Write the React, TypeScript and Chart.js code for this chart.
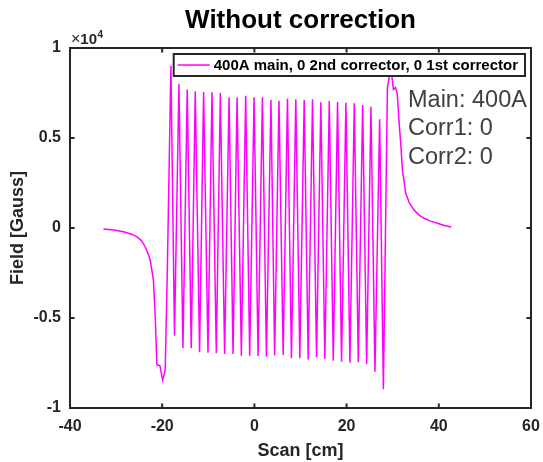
import React, { useEffect, useRef } from "react";
import { Chart, registerables } from "chart.js";

Chart.register(...registerables);

// ---- data ----
const scanX: number[] = [
  // left fringe
  -32.75, -30.5, -28.4, -26.8, -25.5, -24.5, -23.7, -23.1, -22.6, -21.9, -21.5, -21.15, -20.5, -19.9, -19.35, -18.9,
  // periods (peak, trough)
  -18.11, -17.33, -16.37, -15.5, -14.57, -13.7, -12.83, -11.89, -11.02, -10.07, -9.2, -8.26, -7.39, -6.46,
  -5.5, -4.63, -3.76, -2.83, -1.89, -1.02, -0.07, 0.8, 1.74, 2.61, 3.59, 4.39, 5.33, 6.24, 7.17, 8.04,
  8.98, 9.85, 10.8, 11.67, 12.61, 13.48, 14.41, 15.28, 16.24, 17.11, 18.04, 18.91, 19.85, 20.72, 21.67, 22.54,
  23.48, 24.35, 25.28, 26.15, 27.17, 27.98,
  // right fringe
  28.85, 29.3, 29.8, 30.15, 30.6, 31.0, 31.4, 31.74, 32.11, 32.83, 33.6, 34.63, 35.8, 36.8, 38.2, 39.72, 41.2, 42.7,
];

const fieldGauss: number[] = [
  // left fringe
  -55, -110, -205, -330, -480, -700, -1040, -1400, -1780, -2900, -5000, -7600, -7650, -8450, -7900, -2500,
  // periods (peak, trough)
  9000, -5980, 8000, -6680, 7700, -6680, 7600, -6900, 7550, -6930, 7540, -6960, 7500, -7000,
  7260, -7000, 7260, -7090, 7350, -7090, 7260, -7110, 7260, -7150, 7130, -7080, 7070, -7060, 7200, -7240,
  7150, -7240, 7110, -7300, 7150, -7180, 6980, -7280, 7060, -7370, 7000, -7430, 6960, -7480, 6930, -7460,
  6830, -7570, 6740, -7980, 6040, -8960,
  // right fringe
  7760, 8500, 8500, 7700, 7800, 7450, 5800, 4700, 3220, 1930, 1400, 1000, 700, 540, 380, 260, 140, 50,
];

const xTicks: number[] = [-40, -20, 0, 20, 40, 60];
const yTicks: number[] = [-10000, -5000, 0, 5000, 10000];
const yTickLabels: string[] = ["-1", "-0.5", "0", "0.5", "1"];

const titleText = "Without correction";
const xLabel = "Scan [cm]";
const yLabel = "Field [Gauss]";
const legendLabel = "400A main, 0 2nd corrector, 0 1st corrector";
const noteLines: string[] = ["Main: 400A", "Corr1: 0", "Corr2: 0"];

const FONT = "'Liberation Sans', Arial, Helvetica, sans-serif";
const AXIS_COLOR = "#262626";
const LINE_COLOR = "#ff00ff";

const matlabPlugin = {
  id: "matlabDecor",
  afterDatasetsDraw(chart: any) {
    const { ctx, chartArea: a, scales } = chart;
    const xs = scales.x;
    const ys = scales.y;
    ctx.save();
    // box
    ctx.strokeStyle = AXIS_COLOR;
    ctx.lineWidth = 2;
    ctx.strokeRect(a.left, a.top, a.right - a.left, a.bottom - a.top);
    // inward ticks
    const tl = 4.6;
    ctx.lineWidth = 2;
    ctx.beginPath();
    xTicks.forEach((v) => {
      const px = xs.getPixelForValue(v);
      ctx.moveTo(px, a.bottom);
      ctx.lineTo(px, a.bottom - tl);
      ctx.moveTo(px, a.top);
      ctx.lineTo(px, a.top + tl);
    });
    yTicks.forEach((v) => {
      const py = ys.getPixelForValue(v);
      ctx.moveTo(a.left, py);
      ctx.lineTo(a.left + tl, py);
      ctx.moveTo(a.right, py);
      ctx.lineTo(a.right - tl, py);
    });
    ctx.stroke();

    // legend
    ctx.font = `bold 15px ${FONT}`;
    const tw = ctx.measureText(legendLabel).width;
    const lgRight = a.right - 6;
    const lgTop = a.top + 6;
    const lgH = 22;
    const sample = 32;
    const lgW = 4 + sample + 4 + tw + 7;
    const lgLeft = lgRight - lgW;
    ctx.fillStyle = "#ffffff";
    ctx.fillRect(lgLeft, lgTop, lgW, lgH);
    ctx.strokeStyle = AXIS_COLOR;
    ctx.lineWidth = 2;
    ctx.strokeRect(lgLeft, lgTop, lgW, lgH);
    const cy = lgTop + lgH / 2;
    ctx.strokeStyle = LINE_COLOR;
    ctx.lineWidth = 1.5;
    ctx.beginPath();
    ctx.moveTo(lgLeft + 4, cy);
    ctx.lineTo(lgLeft + 4 + sample, cy);
    ctx.stroke();
    ctx.fillStyle = "#000000";
    ctx.textBaseline = "middle";
    ctx.textAlign = "left";
    ctx.fillText(legendLabel, lgLeft + 4 + sample + 4, cy + 0.5);

    // annotation
    ctx.font = `23.5px ${FONT}`;
    ctx.fillStyle = "#404040";
    ctx.textBaseline = "alphabetic";
    noteLines.forEach((t, i) => {
      ctx.fillText(t, a.left + 338, a.top + 59 + i * 28.3);
    });
    ctx.restore();
  },
  afterDraw(chart: any) {
    const { ctx, chartArea: a } = chart;
    ctx.save();
    // title
    ctx.fillStyle = "#000000";
    ctx.font = `bold 26px ${FONT}`;
    ctx.textAlign = "center";
    ctx.textBaseline = "alphabetic";
    ctx.fillText(titleText, (a.left + a.right) / 2, 28);
    // axis labels
    ctx.fillStyle = AXIS_COLOR;
    ctx.font = `bold 18px ${FONT}`;
    ctx.textBaseline = "middle";
    ctx.fillText(xLabel, (a.left + a.right) / 2, 451);
    ctx.save();
    ctx.translate(18, (a.top + a.bottom) / 2);
    ctx.rotate(-Math.PI / 2);
    ctx.fillText(yLabel, 0, 0);
    ctx.restore();
    // exponent
    ctx.textAlign = "left";
    ctx.textBaseline = "alphabetic";
    ctx.font = `16px ${FONT}`;
    const bx = a.left + 1;
    const by = a.top - 4.5;
    ctx.fillText("\u00d7", bx, by);
    const w1 = ctx.measureText("\u00d7").width;
    ctx.font = `bold 15px ${FONT}`;
    ctx.fillText("10", bx + w1, by);
    const w2 = ctx.measureText("10").width;
    ctx.font = `bold 10px ${FONT}`;
    ctx.fillText("4", bx + w1 + w2 + 0.5, by - 5.5);
    ctx.restore();
  },
};

export default function App() {
  const canvasRef = useRef<HTMLCanvasElement | null>(null);

  useEffect(() => {
    const canvas = canvasRef.current;
    if (!canvas) return;
    const points = scanX.map((x, i) => ({ x, y: fieldGauss[i] }));
    const chart = new Chart(canvas, {
      type: "line",
      data: {
        datasets: [
          {
            label: legendLabel,
            data: points,
            borderColor: LINE_COLOR,
            backgroundColor: LINE_COLOR,
            borderWidth: 1.5,
            pointRadius: 0,
            tension: 0,
            fill: false,
          },
        ],
      },
      options: {
        responsive: false,
        animation: false,
        parsing: true,
        layout: { padding: { left: 0, right: 12, top: 48, bottom: 0 } },
        plugins: {
          legend: { display: false },
          title: { display: false },
          tooltip: { enabled: false },
        },
        scales: {
          x: {
            type: "linear",
            min: -40,
            max: 60,
            grid: { display: false, drawTicks: false },
            border: { display: false },
            afterBuildTicks: (s: any) => {
              s.ticks = xTicks.map((v) => ({ value: v }));
            },
            afterFit: (s: any) => {
              s.height = 54;
              s.paddingLeft = 0;
              s.paddingRight = 0;
            },
            ticks: {
              padding: 9,
              maxRotation: 0,
              color: AXIS_COLOR,
              font: { family: FONT, size: 16, weight: "bold" },
              callback: (v: any) => String(v),
            },
          },
          y: {
            type: "linear",
            min: -10000,
            max: 10000,
            grid: { display: false, drawTicks: false },
            border: { display: false },
            afterBuildTicks: (s: any) => {
              s.ticks = yTicks.map((v) => ({ value: v }));
            },
            afterFit: (s: any) => {
              s.width = 70;
              s.paddingTop = 0;
              s.paddingBottom = 0;
            },
            ticks: {
              padding: 9,
              color: AXIS_COLOR,
              font: { family: FONT, size: 16, weight: "bold" },
              callback: (v: any) => {
                const i = yTicks.indexOf(Number(v));
                return i >= 0 ? yTickLabels[i] : "";
              },
            },
          },
        },
      },
      plugins: [matlabPlugin],
    } as any);
    return () => chart.destroy();
  }, []);

  return (
    <div style={{ position: "fixed", left: 0, top: 0, width: 543, height: 462, background: "#ffffff" }}>
      <canvas ref={canvasRef} width={543} height={462} style={{ width: 543, height: 462, display: "block" }} />
    </div>
  );
}
